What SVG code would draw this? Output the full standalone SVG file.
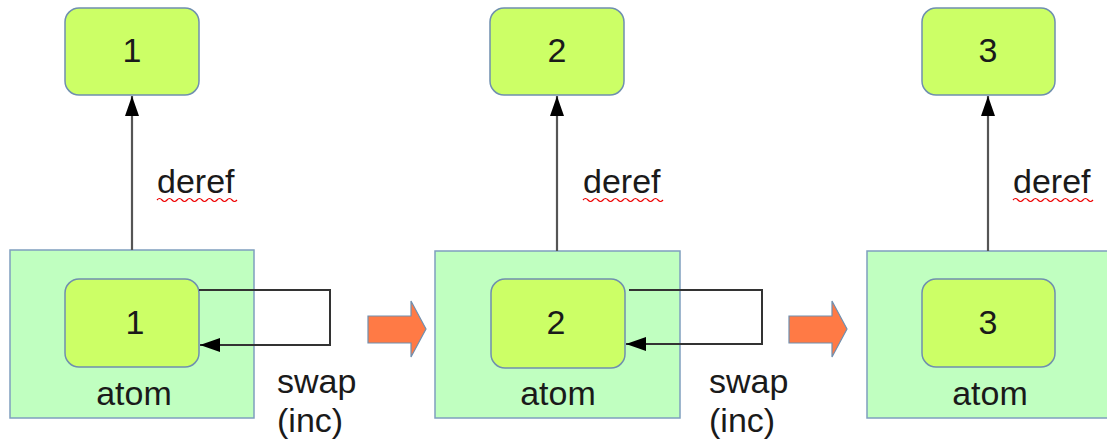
<svg xmlns="http://www.w3.org/2000/svg" width="1107" height="445" viewBox="0 0 1107 445">
<style>
.val{fill:#ccff66;stroke:#6f8faf;stroke-width:1.5}
.atom{fill:#c0ffc0;stroke:#7f9fbf;stroke-width:1.5}
.num{font-family:"Liberation Sans",Arial,sans-serif;font-size:34px;fill:#1a1a1a;text-anchor:middle}
.lbl{font-family:"Liberation Sans",Arial,sans-serif;font-size:34px;fill:#1a1a1a}
.deref{stroke:#555;stroke-width:2.2;fill:none}
.loop{stroke:#333;stroke-width:2;fill:none}
.step{fill:#ff7a45;stroke:#6f8faf;stroke-width:1.2}
.wave{stroke:#e00;stroke-width:1.2;fill:none}
</style>
<defs>
<marker id="ah" markerWidth="20" markerHeight="14" refX="20" refY="7" orient="auto" markerUnits="userSpaceOnUse">
<path d="M0,0 L20,7 L0,14 Z" fill="#000"/>
</marker>
</defs>
<g id="panel1">
<g id="atom1"><rect class="atom" x="10" y="250" width="244" height="168"/><text class="lbl" x="134" y="405" text-anchor="middle">atom</text></g>
<g id="inner1"><rect class="val" x="65" y="279" width="134" height="88" rx="14"/><text class="num" x="135" y="334">1</text></g>
<g id="top1"><rect class="val" x="65" y="8" width="134" height="87" rx="14"/><text class="num" x="132" y="62">1</text></g>
</g>
<g id="panel2">
<g id="atom2"><rect class="atom" x="435" y="251" width="245" height="167"/><text class="lbl" x="558" y="405" text-anchor="middle">atom</text></g>
<g id="inner2"><rect class="val" x="491" y="279" width="134" height="89" rx="14"/><text class="num" x="556" y="334">2</text></g>
<g id="top2"><rect class="val" x="490" y="8" width="134" height="87" rx="14"/><text class="num" x="557" y="62">2</text></g>
</g>
<g id="panel3">
<g id="atom3"><rect class="atom" x="867" y="251" width="245" height="167"/><text class="lbl" x="990" y="405" text-anchor="middle">atom</text></g>
<g id="inner3"><rect class="val" x="922" y="279" width="133" height="88" rx="14"/><text class="num" x="988" y="334">3</text></g>
<g id="top3"><rect class="val" x="922" y="8" width="133" height="87" rx="14"/><text class="num" x="988" y="62">3</text></g>
</g>
<g id="step-arrows">
<path class="step" d="M368,316 L411,316 L411,301 L426,329 L411,357 L411,343 L368,343 Z"/>
<path class="step" d="M789,316 L832,316 L832,301 L847,329 L832,357 L832,343 L789,343 Z"/>
</g>
<g id="connectors">
<path class="deref" d="M132,250 L132,96" marker-end="url(#ah)"/>
<path class="deref" d="M557,251 L557,96" marker-end="url(#ah)"/>
<path class="deref" d="M988,251 L988,96" marker-end="url(#ah)"/>
<path class="loop" d="M199,290 L330,290 L330,345 L200,345" marker-end="url(#ah)"/>
<path class="loop" d="M629,290 L762,290 L762,344 L626,344" marker-end="url(#ah)"/>
</g>
<g id="labels">
<text class="lbl" x="157" y="193">deref</text>
<path class="wave" d="M157,200 q2.5,-3 5,0 t5,0 t5,0 t5,0 t5,0 t5,0 t5,0 t5,0 t5,0 t5,0 t5,0 t5,0 t5,0 t5,0 t5,0 t5,0"/>
<text class="lbl" x="583" y="193">deref</text>
<path class="wave" d="M583,200 q2.5,-3 5,0 t5,0 t5,0 t5,0 t5,0 t5,0 t5,0 t5,0 t5,0 t5,0 t5,0 t5,0 t5,0 t5,0 t5,0 t5,0"/>
<text class="lbl" x="1013" y="193">deref</text>
<path class="wave" d="M1013,200 q2.5,-3 5,0 t5,0 t5,0 t5,0 t5,0 t5,0 t5,0 t5,0 t5,0 t5,0 t5,0 t5,0 t5,0 t5,0 t5,0 t5,0"/>
<text class="lbl" x="277" y="393">swap</text>
<text class="lbl" x="277" y="432">(inc)</text>
<text class="lbl" x="709" y="393">swap</text>
<text class="lbl" x="709" y="432">(inc)</text>
</g>
</svg>
